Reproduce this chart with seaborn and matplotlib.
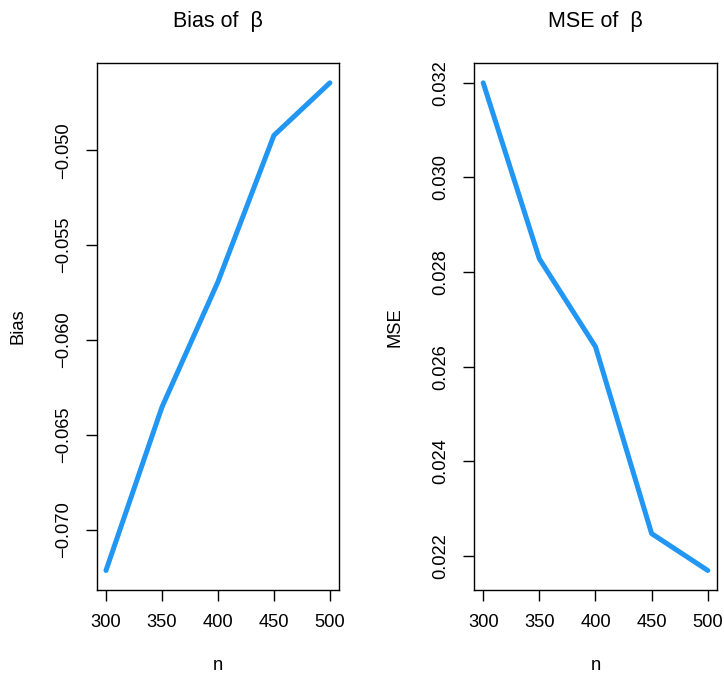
import numpy as np
import pandas as pd
import seaborn as sns
import matplotlib.pyplot as plt

# values
n_values = [300, 350, 400, 450, 500]
bias_values = [-0.07215, -0.06354, -0.05694, -0.04922, -0.04645]
mse_values = [0.03200, 0.02828, 0.02642, 0.02247, 0.02169]

bias_ticks = [-0.070, -0.065, -0.060, -0.055, -0.050]
mse_ticks = [0.022, 0.024, 0.026, 0.028, 0.030, 0.032]
n_ticks = [300, 350, 400, 450, 500]

line_color = "#2196F3"

sns.set_style("ticks")
plt.rcParams['font.family'] = ['Liberation Sans', 'DejaVu Sans']
plt.rcParams['axes.linewidth'] = 1.0
for key in ['text.color', 'axes.labelcolor', 'xtick.color', 'ytick.color',
            'xtick.labelcolor', 'ytick.labelcolor']:
    plt.rcParams[key] = 'black'

df = pd.DataFrame({"n": n_values, "Bias": bias_values, "MSE": mse_values})

fig = plt.figure(figsize=(7.24, 6.78), dpi=100)
ax1 = fig.add_axes([0.134, 0.1298, 0.334, 0.7768])
ax2 = fig.add_axes([0.655, 0.1298, 0.335, 0.7768])


def r_limits(vals):
    lo, hi = min(vals), max(vals)
    pad = (hi - lo) * 0.04
    return lo - pad, hi + pad


def style(ax, col, ticks, fmt, title, label_x):
    sns.lineplot(data=df, x="n", y=col, ax=ax, color=line_color, linewidth=3.6,
                 solid_capstyle="round", solid_joinstyle="round")
    ax.set_xlim(*r_limits(n_values))
    ax.set_ylim(*r_limits(df[col]))
    ax.set_xticks(n_ticks)
    ax.set_yticks(ticks)
    ax.set_yticklabels([fmt.format(t).replace("-", "\u2212") for t in ticks],
                       rotation=90, va="center")
    ax.tick_params(axis="both", length=8, width=1.0, labelsize=13.2, color="black",
                   labelcolor="black")
    ax.tick_params(axis="x", pad=9)
    ax.tick_params(axis="y", pad=10)
    for s in ax.spines.values():
        s.set_visible(True)
        s.set_color("black")
    ax.set_xlabel("n", fontsize=13.2, color="black")
    ax.set_ylabel(col, fontsize=13.2, color="black")
    ax.xaxis.set_label_coords(0.5, -0.127)
    ax.yaxis.set_label_coords(label_x, 0.5)
    ax.set_title(title, fontsize=15.5, pad=26, color="black")


style(ax1, "Bias", bias_ticks, "{:.3f}", "Bias of  \u03b2", -0.29)
style(ax2, "MSE", mse_ticks, "{:.3f}", "MSE of  \u03b2", -0.29)

fig.savefig("out.png", dpi=100)
